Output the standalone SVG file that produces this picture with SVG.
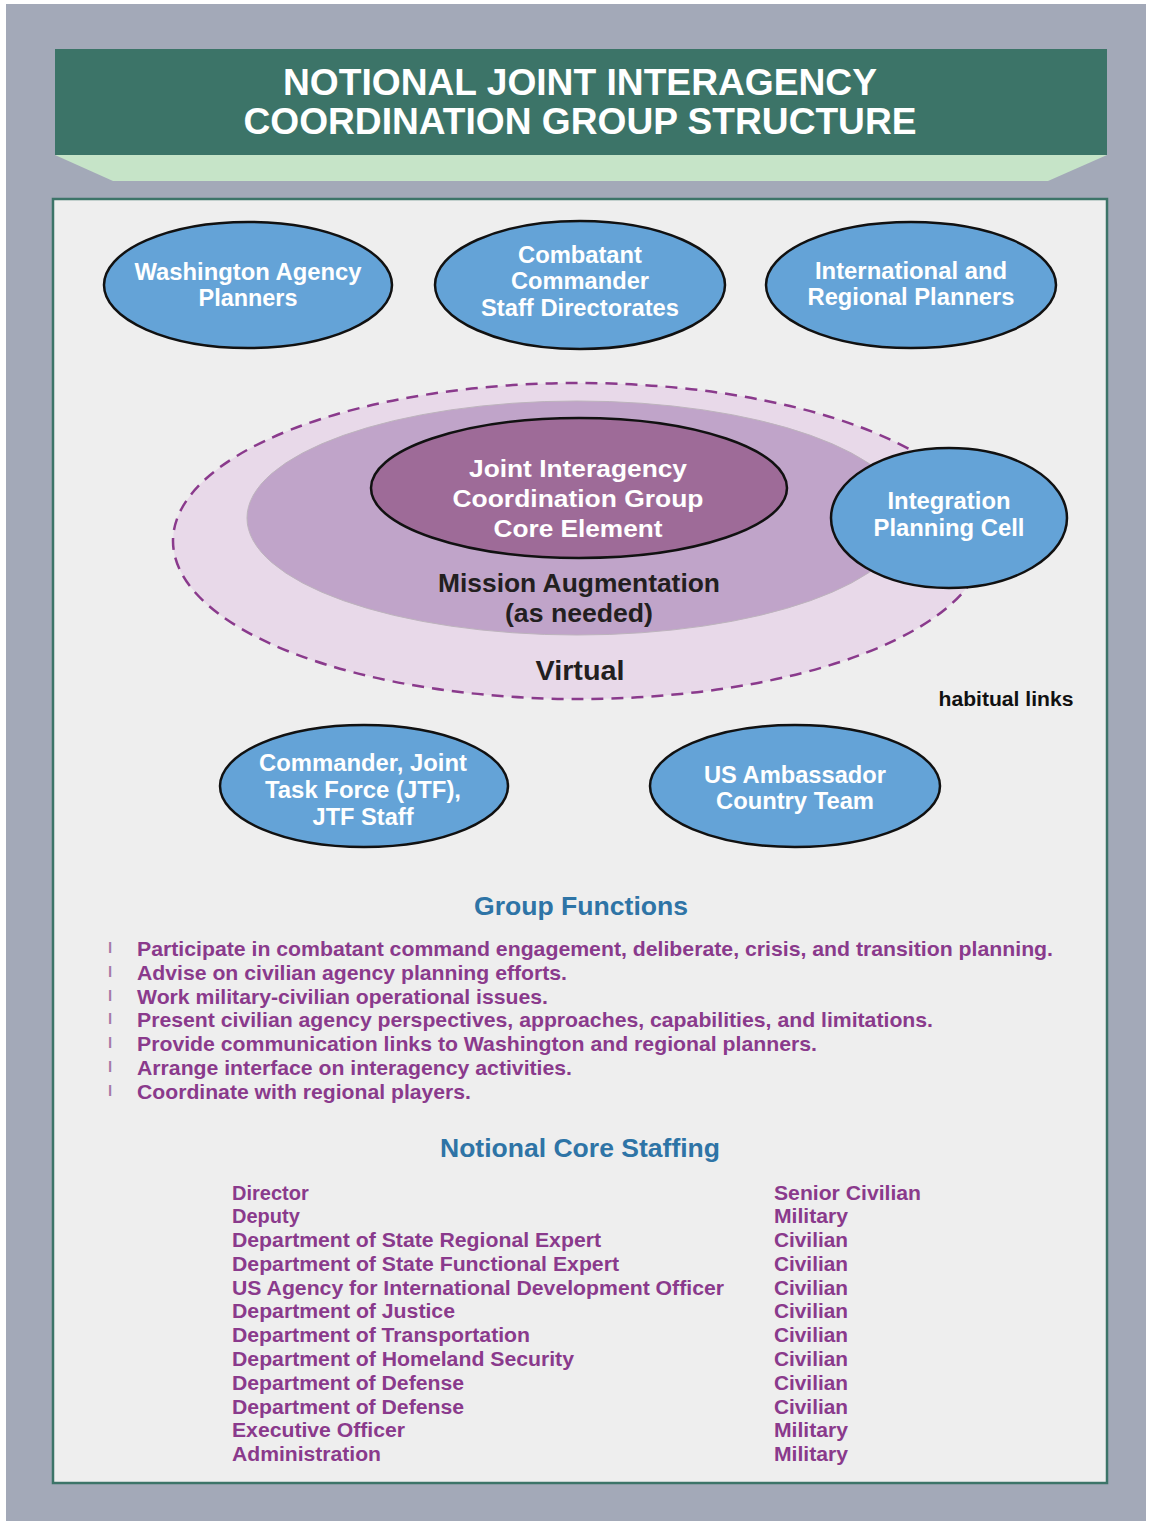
<svg xmlns="http://www.w3.org/2000/svg" width="1151" height="1525" viewBox="0 0 1151 1525">
<style>
text{font-family:"Liberation Sans",Arial,sans-serif;font-weight:bold}
.node{fill:#64a3d7;stroke:#111;stroke-width:2.5}
.wt{fill:#fff;font-size:23px;text-anchor:middle}
.title{fill:#fff;font-size:36px;text-anchor:middle}
.blk{fill:#231f20;text-anchor:middle}
.head{fill:#2e74a6;font-size:26.5px;text-anchor:middle}
.pt{fill:#8a3a8c;font-size:21px}
.st{fill:#8a3a8c;font-size:20px}
.bul{fill:#a77aa8;font-size:15px;font-weight:normal}
</style>
<rect x="0" y="0" width="1151" height="1525" fill="#ffffff"/>
<rect x="6" y="4" width="1140" height="1517" fill="#a3a9b8"/>
<g id="title">
<rect x="55" y="49" width="1052" height="106" fill="#3c7468"/>
<polygon points="55,155 1107,155 1048,181 113,181" fill="#c6e4c8"/>
<text class="title" x="580" y="95" textLength="594" lengthAdjust="spacingAndGlyphs">NOTIONAL JOINT INTERAGENCY</text>
<text class="title" x="580" y="134" textLength="673" lengthAdjust="spacingAndGlyphs">COORDINATION GROUP STRUCTURE</text>
</g>
<rect x="53" y="199" width="1054" height="1284" fill="#eeeeee" stroke="#3c7468" stroke-width="2.5"/>
<g id="connectors"></g>
<g id="virtual">
<ellipse cx="579" cy="541" rx="406" ry="158" fill="#e8d9e9" stroke="#8a3a8c" stroke-width="2.5" stroke-dasharray="12 8"/>
<text class="blk" x="580" y="680" font-size="28" textLength="89" lengthAdjust="spacingAndGlyphs">Virtual</text>
</g>
<g id="mission">
<ellipse cx="577" cy="518" rx="330" ry="117" fill="#c0a4c9" stroke="#bdb3bd" stroke-width="1"/>
<text class="blk" x="579" y="592" font-size="25" textLength="282" lengthAdjust="spacingAndGlyphs">Mission Augmentation</text>
<text class="blk" x="579" y="622" font-size="25" textLength="148" lengthAdjust="spacingAndGlyphs">(as needed)</text>
</g>
<g id="core">
<ellipse cx="579" cy="488" rx="208" ry="70" fill="#9e6b98" stroke="#111" stroke-width="2.5"/>
<text class="wt" x="578" y="477" font-size="26" textLength="218" lengthAdjust="spacingAndGlyphs">Joint Interagency</text>
<text class="wt" x="578" y="507" font-size="26" textLength="251" lengthAdjust="spacingAndGlyphs">Coordination Group</text>
<text class="wt" x="578" y="537" font-size="26" textLength="169" lengthAdjust="spacingAndGlyphs">Core Element</text>
</g>
<g id="integration">
<ellipse cx="949" cy="518" rx="118" ry="70" class="node"/>
<text class="wt" x="949" y="509" textLength="123" lengthAdjust="spacingAndGlyphs">Integration</text>
<text class="wt" x="949" y="536" textLength="151" lengthAdjust="spacingAndGlyphs">Planning Cell</text>
</g>
<text x="1006" y="706" font-size="20" fill="#111" text-anchor="middle" textLength="135" lengthAdjust="spacingAndGlyphs">habitual links</text>
<g id="washington">
<ellipse cx="248" cy="285" rx="144" ry="63" class="node"/>
<text class="wt" x="248" y="280" textLength="227" lengthAdjust="spacingAndGlyphs">Washington Agency</text>
<text class="wt" x="248" y="306" textLength="99" lengthAdjust="spacingAndGlyphs">Planners</text>
</g>
<g id="combatant">
<ellipse cx="580" cy="285" rx="145" ry="64" class="node"/>
<text class="wt" x="580" y="263" textLength="124" lengthAdjust="spacingAndGlyphs">Combatant</text>
<text class="wt" x="580" y="289" textLength="138" lengthAdjust="spacingAndGlyphs">Commander</text>
<text class="wt" x="580" y="316" textLength="198" lengthAdjust="spacingAndGlyphs">Staff Directorates</text>
</g>
<g id="international">
<ellipse cx="911" cy="285" rx="145" ry="63" class="node"/>
<text class="wt" x="911" y="279" textLength="192" lengthAdjust="spacingAndGlyphs">International and</text>
<text class="wt" x="911" y="305" textLength="207" lengthAdjust="spacingAndGlyphs">Regional Planners</text>
</g>
<g id="commander">
<ellipse cx="364" cy="786" rx="144" ry="61" class="node"/>
<text class="wt" x="363" y="771" textLength="208" lengthAdjust="spacingAndGlyphs">Commander, Joint</text>
<text class="wt" x="363" y="798" textLength="196" lengthAdjust="spacingAndGlyphs">Task Force (JTF),</text>
<text class="wt" x="363" y="825" textLength="101" lengthAdjust="spacingAndGlyphs">JTF Staff</text>
</g>
<g id="ambassador">
<ellipse cx="795" cy="786" rx="145" ry="61" class="node"/>
<text class="wt" x="795" y="783" textLength="182" lengthAdjust="spacingAndGlyphs">US Ambassador</text>
<text class="wt" x="795" y="809" textLength="158" lengthAdjust="spacingAndGlyphs">Country Team</text>
</g>
<g id="functions">
<text class="head" x="581" y="915" textLength="214" lengthAdjust="spacingAndGlyphs">Group Functions</text>
<g class="bul">
<text x="108" y="953">l</text><text x="108" y="977">l</text><text x="108" y="1001">l</text><text x="108" y="1024">l</text><text x="108" y="1048">l</text><text x="108" y="1072">l</text><text x="108" y="1096">l</text>
</g>
<text class="pt" x="137" y="956" textLength="916" lengthAdjust="spacingAndGlyphs">Participate in combatant command engagement, deliberate, crisis, and transition planning.</text>
<text class="pt" x="137" y="980" textLength="430" lengthAdjust="spacingAndGlyphs">Advise on civilian agency planning efforts.</text>
<text class="pt" x="137" y="1004" textLength="411" lengthAdjust="spacingAndGlyphs">Work military-civilian operational issues.</text>
<text class="pt" x="137" y="1027" textLength="796" lengthAdjust="spacingAndGlyphs">Present civilian agency perspectives, approaches, capabilities, and limitations.</text>
<text class="pt" x="137" y="1051" textLength="680" lengthAdjust="spacingAndGlyphs">Provide communication links to Washington and regional planners.</text>
<text class="pt" x="137" y="1075" textLength="435" lengthAdjust="spacingAndGlyphs">Arrange interface on interagency activities.</text>
<text class="pt" x="137" y="1099" textLength="334" lengthAdjust="spacingAndGlyphs">Coordinate with regional players.</text>
</g>
<g id="staffing">
<text class="head" x="580" y="1157" textLength="280" lengthAdjust="spacingAndGlyphs">Notional Core Staffing</text>
<g class="st">
<text x="232" y="1200">Director</text>
<text x="232" y="1223">Deputy</text>
<text x="232" y="1247" textLength="369" lengthAdjust="spacingAndGlyphs">Department of State Regional Expert</text>
<text x="232" y="1271" textLength="387" lengthAdjust="spacingAndGlyphs">Department of State Functional Expert</text>
<text x="232" y="1295" textLength="492" lengthAdjust="spacingAndGlyphs">US Agency for International Development Officer</text>
<text x="232" y="1318" textLength="223" lengthAdjust="spacingAndGlyphs">Department of Justice</text>
<text x="232" y="1342" textLength="298" lengthAdjust="spacingAndGlyphs">Department of Transportation</text>
<text x="232" y="1366" textLength="342" lengthAdjust="spacingAndGlyphs">Department of Homeland Security</text>
<text x="232" y="1390" textLength="232" lengthAdjust="spacingAndGlyphs">Department of Defense</text>
<text x="232" y="1414" textLength="232" lengthAdjust="spacingAndGlyphs">Department of Defense</text>
<text x="232" y="1437" textLength="173" lengthAdjust="spacingAndGlyphs">Executive Officer</text>
<text x="232" y="1461" textLength="149" lengthAdjust="spacingAndGlyphs">Administration</text>
<text x="774" y="1200" textLength="147" lengthAdjust="spacingAndGlyphs">Senior Civilian</text>
<text x="774" y="1223" textLength="74" lengthAdjust="spacingAndGlyphs">Military</text>
<text x="774" y="1247" textLength="74" lengthAdjust="spacingAndGlyphs">Civilian</text>
<text x="774" y="1271" textLength="74" lengthAdjust="spacingAndGlyphs">Civilian</text>
<text x="774" y="1295" textLength="74" lengthAdjust="spacingAndGlyphs">Civilian</text>
<text x="774" y="1318" textLength="74" lengthAdjust="spacingAndGlyphs">Civilian</text>
<text x="774" y="1342" textLength="74" lengthAdjust="spacingAndGlyphs">Civilian</text>
<text x="774" y="1366" textLength="74" lengthAdjust="spacingAndGlyphs">Civilian</text>
<text x="774" y="1390" textLength="74" lengthAdjust="spacingAndGlyphs">Civilian</text>
<text x="774" y="1414" textLength="74" lengthAdjust="spacingAndGlyphs">Civilian</text>
<text x="774" y="1437" textLength="74" lengthAdjust="spacingAndGlyphs">Military</text>
<text x="774" y="1461" textLength="74" lengthAdjust="spacingAndGlyphs">Military</text>
</g>
</g>
</svg>
